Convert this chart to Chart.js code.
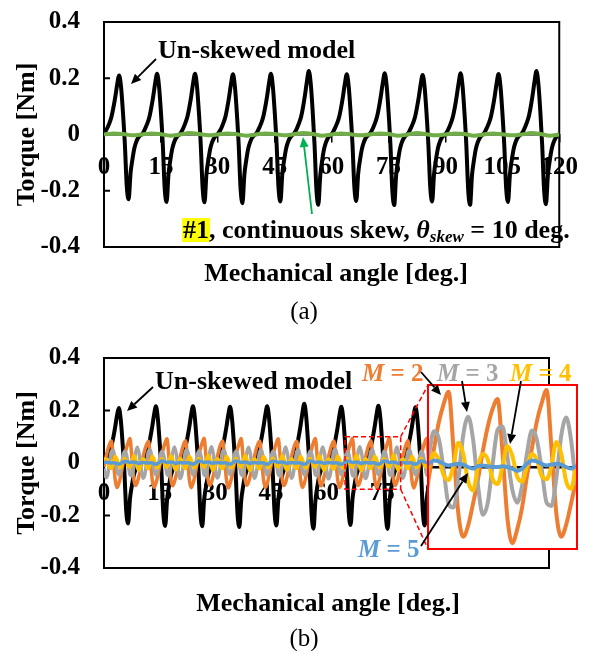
<!DOCTYPE html>
<html>
<head>
<meta charset="utf-8">
<script src="https://cdn.jsdelivr.net/npm/chart.js@4.4.1/dist/chart.umd.min.js"></script>
<style>
  html, body { margin: 0; padding: 0; background: #fff; }
  body { width: 589px; height: 651px; position: relative; overflow: hidden; }
  canvas { display: block; }
  .panel { position: absolute; left: 0; width: 589px; }
  #panelA { top: 0; }
  #panelB { top: 330px; }
  #inset { position: absolute; box-sizing: border-box; border: 2px solid #ff0000; background: #fff; }
  #overlay { position: absolute; left: 0; top: 0; pointer-events: none; }
</style>
</head>
<body>
<div class="panel" id="panelA"><canvas id="chartA" width="589" height="265"></canvas></div>
<div class="panel" id="panelB"><canvas id="chartB" width="589" height="270"></canvas></div>
<div id="inset"><canvas id="chartC"></canvas></div>
<canvas id="overlay" width="589" height="651"></canvas>
<script>
const SERIF = "'Liberation Serif', 'Times New Roman', serif";
const PANEL_B_TOP = 330;

const angleTicks = [0, 15, 30, 45, 60, 75, 90, 105, 120];
const torqueTicks = [-0.4, -0.2, 0, 0.2, 0.4];

// sample spacing of the torque waveforms [deg]
const waveStep = 0.5;
const skewStep = 2.5;

// un-skewed model, one row per 10 deg
const unskewedTorque = [
  0.008, 0.014, 0.027, 0.043, 0.065, 0.097, 0.136, 0.180, 0.210, 0.168, 0.078, -0.034, -0.184, -0.230, -0.137, -0.088, -0.049, -0.026, -0.012, -0.004,
  0.001, 0.011, 0.026, 0.042, 0.064, 0.098, 0.138, 0.184, 0.216, 0.172, 0.080, -0.036, -0.192, -0.240, -0.142, -0.090, -0.050, -0.027, -0.012, -0.004,
  0.001, 0.012, 0.026, 0.043, 0.064, 0.097, 0.137, 0.184, 0.216, 0.173, 0.081, -0.035, -0.191, -0.241, -0.141, -0.091, -0.051, -0.027, -0.013, -0.004,
  0.002, 0.012, 0.025, 0.042, 0.063, 0.096, 0.136, 0.182, 0.214, 0.171, 0.080, -0.036, -0.193, -0.244, -0.143, -0.091, -0.051, -0.028, -0.012, -0.004,
  0.002, 0.012, 0.026, 0.042, 0.064, 0.097, 0.137, 0.183, 0.216, 0.172, 0.080, -0.035, -0.189, -0.238, -0.140, -0.090, -0.050, -0.027, -0.012, -0.004,
  0.002, 0.012, 0.027, 0.044, 0.066, 0.100, 0.142, 0.190, 0.226, 0.180, 0.084, -0.037, -0.198, -0.250, -0.146, -0.093, -0.052, -0.028, -0.013, -0.004,
  0.002, 0.012, 0.026, 0.042, 0.063, 0.096, 0.136, 0.182, 0.214, 0.171, 0.079, -0.035, -0.188, -0.236, -0.139, -0.089, -0.050, -0.027, -0.012, -0.004,
  0.002, 0.012, 0.026, 0.043, 0.065, 0.098, 0.139, 0.185, 0.218, 0.174, 0.081, -0.036, -0.199, -0.251, -0.146, -0.093, -0.052, -0.028, -0.013, -0.004,
  0.002, 0.012, 0.026, 0.042, 0.063, 0.096, 0.135, 0.181, 0.212, 0.170, 0.079, -0.035, -0.189, -0.238, -0.140, -0.090, -0.050, -0.027, -0.012, -0.004,
  0.002, 0.012, 0.026, 0.043, 0.065, 0.098, 0.139, 0.185, 0.218, 0.174, 0.081, -0.036, -0.198, -0.250, -0.145, -0.093, -0.052, -0.028, -0.013, -0.004,
  0.002, 0.012, 0.026, 0.042, 0.064, 0.097, 0.137, 0.183, 0.215, 0.172, 0.080, -0.035, -0.190, -0.240, -0.141, -0.090, -0.050, -0.027, -0.012, -0.004,
  0.002, 0.012, 0.027, 0.044, 0.066, 0.100, 0.142, 0.190, 0.226, 0.180, 0.084, -0.037, -0.197, -0.248, -0.145, -0.092, -0.052, -0.028, -0.013, -0.004,
  0.002
];

// #1 continuous skew, every 2.5 deg
const skewTorque = [
  0.000, 0.004, 0.002, -0.003, 0.000, 0.004, 0.001, -0.004, 0.000, 0.005, 0.002, -0.003,
  0.000, 0.004, 0.001, -0.004, 0.000, 0.004, 0.002, -0.003, 0.001, 0.005, 0.002, -0.004,
  0.000, 0.004, 0.001, -0.003, 0.000, 0.004, 0.002, -0.004, 0.000, 0.005, 0.001, -0.003,
  0.000, 0.004, 0.002, -0.004, 0.000, 0.004, 0.001, -0.003, 0.000, 0.005, 0.002, -0.004,
  0.000
];

// step skew, M = 2
const m2Torque = [
  -0.015, 0.020, 0.050, 0.072, 0.084, 0.018, -0.062, -0.094, -0.078, -0.050, -0.012, 0.022, 0.055, 0.078, 0.093, 0.022, -0.058, -0.086, -0.072, -0.045,
  -0.014, 0.021, 0.050, 0.071, 0.083, 0.017, -0.063, -0.093, -0.077, -0.049, -0.012, 0.023, 0.055, 0.079, 0.092, 0.021, -0.059, -0.087, -0.071, -0.045,
  -0.015, 0.020, 0.049, 0.072, 0.085, 0.019, -0.062, -0.094, -0.078, -0.050, -0.011, 0.022, 0.056, 0.078, 0.094, 0.022, -0.058, -0.086, -0.072, -0.046,
  -0.016, 0.019, 0.050, 0.073, 0.084, 0.018, -0.061, -0.095, -0.078, -0.051, -0.012, 0.022, 0.055, 0.077, 0.093, 0.023, -0.057, -0.085, -0.072, -0.045,
  -0.015, 0.020, 0.051, 0.072, 0.084, 0.018, -0.062, -0.094, -0.079, -0.050, -0.013, 0.021, 0.054, 0.078, 0.092, 0.022, -0.058, -0.086, -0.073, -0.045,
  -0.014, 0.020, 0.050, 0.072, 0.083, 0.017, -0.062, -0.093, -0.078, -0.050, -0.012, 0.022, 0.055, 0.079, 0.093, 0.021, -0.059, -0.087, -0.072, -0.044,
  -0.015, 0.021, 0.050, 0.071, 0.084, 0.018, -0.062, -0.094, -0.078, -0.050, -0.012, 0.022, 0.055, 0.078, 0.093, 0.022, -0.058, -0.086, -0.072, -0.045,
  -0.015, 0.020, 0.050, 0.072, 0.084, 0.018, -0.063, -0.094, -0.077, -0.050, -0.011, 0.023, 0.056, 0.079, 0.095, 0.023, -0.058, -0.086, -0.071, -0.045,
  -0.016, 0.020, 0.049, 0.072, 0.085, 0.019, -0.062, -0.095, -0.078, -0.051, -0.012, 0.022, 0.055, 0.078, 0.093, 0.022, -0.058, -0.086, -0.072, -0.045,
  -0.015
];

// step skew, M = 3
const m3Torque = [
  -0.020, -0.056, -0.044, 0.004, 0.044, 0.049, 0.013, -0.028, -0.045, -0.024, 0.017, 0.045, 0.035, -0.003, -0.044, -0.048, -0.013, 0.039, 0.060, 0.033,
  -0.022, -0.058, -0.045, 0.003, 0.045, 0.050, 0.014, -0.027, -0.046, -0.025, 0.016, 0.044, 0.035, -0.002, -0.043, -0.048, -0.014, 0.038, 0.061, 0.034,
  -0.023, -0.059, -0.044, 0.004, 0.046, 0.049, 0.012, -0.028, -0.045, -0.024, 0.017, 0.046, 0.036, -0.003, -0.045, -0.049, -0.013, 0.040, 0.062, 0.033,
  -0.022, -0.057, -0.043, 0.005, 0.045, 0.048, 0.013, -0.029, -0.044, -0.023, 0.018, 0.045, 0.034, -0.004, -0.044, -0.047, -0.012, 0.039, 0.060, 0.032,
  -0.021, -0.058, -0.044, 0.004, 0.044, 0.049, 0.013, -0.028, -0.046, -0.024, 0.017, 0.045, 0.035, -0.003, -0.044, -0.048, -0.013, 0.039, 0.061, 0.033,
  -0.022, -0.058, -0.045, 0.004, 0.045, 0.050, 0.013, -0.028, -0.045, -0.025, 0.016, 0.045, 0.035, -0.003, -0.045, -0.048, -0.013, 0.039, 0.061, 0.034,
  -0.022, -0.060, -0.045, 0.004, 0.047, 0.051, 0.014, -0.027, -0.045, -0.024, 0.016, 0.044, 0.035, -0.004, -0.046, -0.050, -0.014, 0.040, 0.062, 0.034,
  -0.023, -0.059, -0.044, 0.004, 0.046, 0.050, 0.013, -0.028, -0.044, -0.023, 0.017, 0.045, 0.034, -0.003, -0.044, -0.048, -0.013, 0.039, 0.061, 0.033,
  -0.022, -0.058, -0.044, 0.004, 0.045, 0.049, 0.013, -0.028, -0.045, -0.024, 0.017, 0.045, 0.035, -0.003, -0.044, -0.048, -0.013, 0.039, 0.061, 0.033,
  -0.022
];

// step skew, M = 4
const m4Torque = [
  0.001, 0.016, 0.009, -0.015, -0.021, 0.001, 0.025, 0.014, -0.012, -0.018, 0.001, 0.017, 0.009, -0.010, -0.015, 0.002, 0.029, 0.016, -0.018, -0.027,
  0.001, 0.016, 0.008, -0.015, -0.022, 0.001, 0.026, 0.014, -0.012, -0.019, 0.001, 0.016, 0.009, -0.011, -0.015, 0.002, 0.028, 0.016, -0.018, -0.026,
  0.000, 0.017, 0.009, -0.014, -0.021, 0.002, 0.025, 0.013, -0.012, -0.018, 0.001, 0.017, 0.010, -0.010, -0.016, 0.002, 0.029, 0.017, -0.017, -0.027,
  0.001, 0.016, 0.009, -0.015, -0.021, 0.001, 0.025, 0.014, -0.013, -0.018, 0.000, 0.017, 0.009, -0.010, -0.015, 0.001, 0.030, 0.016, -0.018, -0.028,
  0.001, 0.015, 0.009, -0.016, -0.022, 0.001, 0.024, 0.014, -0.012, -0.018, 0.001, 0.018, 0.009, -0.010, -0.014, 0.002, 0.029, 0.015, -0.019, -0.027,
  0.002, 0.016, 0.009, -0.015, -0.021, 0.001, 0.025, 0.014, -0.012, -0.019, 0.001, 0.017, 0.009, -0.010, -0.015, 0.002, 0.029, 0.016, -0.018, -0.027,
  0.001, 0.016, 0.010, -0.015, -0.023, 0.000, 0.026, 0.015, -0.012, -0.019, 0.001, 0.017, 0.009, -0.010, -0.016, 0.002, 0.030, 0.016, -0.018, -0.029,
  0.001, 0.016, 0.009, -0.015, -0.021, 0.001, 0.026, 0.014, -0.012, -0.018, 0.001, 0.016, 0.009, -0.011, -0.015, 0.002, 0.031, 0.016, -0.018, -0.027,
  0.001, 0.016, 0.009, -0.015, -0.021, 0.001, 0.025, 0.014, -0.012, -0.018, 0.001, 0.017, 0.009, -0.010, -0.015, 0.002, 0.029, 0.016, -0.018, -0.027,
  0.001
];

// step skew, M = 5
const m5Torque = [
  0.002, 0.003, 0.002, 0.001, 0.000, 0.001, 0.000, -0.002, -0.004, -0.002, 0.003, 0.007, 0.006, 0.004, 0.002, 0.003, 0.004, 0.003, 0.000, -0.002,
  0.001, 0.002, 0.001, 0.000, 0.000, 0.001, 0.000, -0.002, -0.005, -0.002, 0.004, 0.008, 0.007, 0.004, 0.002, 0.003, 0.004, 0.003, 0.000, -0.002,
  0.001, 0.002, 0.001, 0.000, 0.001, 0.001, 0.000, -0.002, -0.005, -0.002, 0.004, 0.008, 0.006, 0.004, 0.002, 0.003, 0.004, 0.003, 0.000, -0.001,
  0.001, 0.002, 0.001, 0.000, 0.000, 0.001, 0.000, -0.003, -0.005, -0.002, 0.004, 0.008, 0.007, 0.004, 0.002, 0.003, 0.004, 0.003, 0.000, -0.002,
  0.001, 0.002, 0.001, 0.000, 0.000, 0.001, 0.000, -0.002, -0.005, -0.002, 0.004, 0.007, 0.007, 0.004, 0.002, 0.003, 0.004, 0.003, 0.000, -0.002,
  0.001, 0.002, 0.001, 0.000, 0.000, 0.001, 0.000, -0.002, -0.005, -0.003, 0.004, 0.008, 0.007, 0.004, 0.002, 0.003, 0.004, 0.003, 0.000, -0.002,
  0.001, 0.002, 0.001, 0.000, 0.000, 0.001, 0.000, -0.002, -0.005, -0.002, 0.004, 0.008, 0.007, 0.004, 0.002, 0.003, 0.004, 0.003, 0.000, -0.002,
  0.001, 0.002, 0.001, 0.000, 0.000, 0.001, 0.000, -0.002, -0.005, -0.002, 0.004, 0.008, 0.007, 0.004, 0.002, 0.003, 0.004, 0.003, 0.000, -0.002,
  0.001, 0.002, 0.001, 0.000, 0.000, 0.001, 0.000, -0.002, -0.005, -0.002, 0.004, 0.008, 0.007, 0.004, 0.002, 0.003, 0.004, 0.003, 0.000, -0.002,
  0.001
];

// window of (b) that is blown up in the inset
const zoomAngle = [65, 80];
const zoomTorque = [-0.1, 0.1];
const insetBox = { left: 427, top: 384, width: 151, height: 166 };

const tickFont = { family: SERIF, size: 25, weight: 'bold' };
const titleFont = { family: SERIF, size: 26, weight: 'bold' };
const clear = 'rgba(0,0,0,0)';

const toPoints = (values, step) => values.map((y, i) => ({ x: i * step, y }));

function trace(values, step, color, width, order) {
  return {
    data: toPoints(values, step),
    borderColor: color,
    borderWidth: width,
    pointRadius: 0,
    cubicInterpolationMode: 'monotone',
    borderJoinStyle: 'round',
    fill: false,
    order
  };
}

function angleAxis(labelPad) {
  return {
    type: 'linear',
    min: 0,
    max: 120,
    position: { y: 0 },
    afterBuildTicks: s => { s.ticks = angleTicks.map(value => ({ value })); },
    afterFit: s => { s.height = 0; },
    grid: { drawOnChartArea: false, drawTicks: true, tickLength: 7, color: '#000', lineWidth: 1.5 },
    border: { display: true, color: '#000', width: 1.5 },
    ticks: { font: tickFont, color: '#000', padding: labelPad, autoSkip: false, maxRotation: 0 }
  };
}

// the gap between labels and frame comes from an invisible tick mark,
// ticks.padding would also push the plot area down
function torqueAxis() {
  return {
    min: -0.4,
    max: 0.4,
    afterBuildTicks: s => { s.ticks = torqueTicks.map(value => ({ value })); },
    afterFit: s => { s.width = 100; },
    grid: { display: true, drawOnChartArea: false, drawTicks: true, tickLength: 24, color: clear, tickColor: clear },
    border: { display: false },
    ticks: { font: tickFont, color: '#000', padding: 0, callback: v => (v === 0 ? '0' : v.toFixed(1)) },
    title: { display: true, text: 'Torque [Nm]', font: titleFont, color: '#000', padding: { top: 8, bottom: 0 } }
  };
}

function baseOptions(padding, scales) {
  return {
    responsive: false,
    animation: false,
    devicePixelRatio: 1,
    events: [],
    layout: { padding },
    plugins: { legend: { display: false }, tooltip: { enabled: false } },
    scales
  };
}

// box round the plot area plus short inward ticks on the torque axis
const plotFrame = {
  id: 'plotFrame',
  beforeDatasetsDraw(chart) {
    const { ctx, chartArea: a, scales: { y } } = chart;
    ctx.save();
    ctx.strokeStyle = '#000';
    ctx.lineWidth = 2;
    ctx.strokeRect(a.left, a.top, a.right - a.left, a.bottom - a.top);
    ctx.beginPath();
    y.ticks.forEach(t => {
      const py = y.getPixelForValue(t.value);
      ctx.moveTo(a.left, py);
      ctx.lineTo(a.left + 6, py);
    });
    ctx.stroke();
    ctx.restore();
  }
};

// dashed window in (b) and the leader lines to the inset
const zoomFrame = {
  id: 'zoomFrame',
  afterDatasetsDraw(chart) {
    const { ctx, scales: { x, y } } = chart;
    const left = x.getPixelForValue(zoomAngle[0]);
    const right = x.getPixelForValue(zoomAngle[1]);
    const top = y.getPixelForValue(zoomTorque[1]);
    const bottom = y.getPixelForValue(zoomTorque[0]);
    const bx = insetBox.left + 1;
    const by1 = insetBox.top - PANEL_B_TOP + 1;
    const by2 = by1 + insetBox.height - 2;
    ctx.save();
    ctx.strokeStyle = '#ff0000';
    ctx.lineWidth = 1.5;
    ctx.setLineDash([5, 3]);
    ctx.strokeRect(left, top, right - left, bottom - top);
    ctx.beginPath();
    ctx.moveTo(right, top);
    ctx.lineTo(bx, by1);
    ctx.moveTo(right, bottom);
    ctx.lineTo(bx, by2);
    ctx.stroke();
    ctx.restore();
  }
};

new Chart(document.getElementById('chartA'), {
  type: 'line',
  data: {
    datasets: [
      trace(skewTorque, skewStep, '#70ad47', 4, 1),
      trace(unskewedTorque, waveStep, '#000000', 4, 2)
    ]
  },
  options: baseOptions({ left: 4, right: 19, top: 22, bottom: 18 }, { x: angleAxis(11), y: torqueAxis() }),
  plugins: [plotFrame]
});

new Chart(document.getElementById('chartB'), {
  type: 'line',
  data: {
    datasets: [
      trace(m5Torque, waveStep, '#5b9bd5', 3.5, 1),
      trace(m4Torque, waveStep, '#ffc000', 3.5, 2),
      trace(m3Torque, waveStep, '#a5a5a5', 3.5, 3),
      trace(m2Torque, waveStep, '#ed7d31', 3.5, 4),
      trace(unskewedTorque, waveStep, '#000000', 4, 5)
    ]
  },
  options: baseOptions({ left: 4, right: 40, top: 28, bottom: 32 }, { x: angleAxis(9), y: torqueAxis() }),
  plugins: [plotFrame, zoomFrame]
});

// inset: same step-skew curves over the zoom window
const insetEl = document.getElementById('inset');
Object.assign(insetEl.style, {
  left: insetBox.left + 'px', top: insetBox.top + 'px',
  width: insetBox.width + 'px', height: insetBox.height + 'px'
});
const insetCanvas = document.getElementById('chartC');
insetCanvas.width = insetBox.width - 4;
insetCanvas.height = insetBox.height - 4;

new Chart(insetCanvas, {
  type: 'line',
  data: {
    datasets: [
      trace(m5Torque, waveStep, '#5b9bd5', 4, 1),
      trace(m4Torque, waveStep, '#ffc000', 4, 2),
      trace(m3Torque, waveStep, '#a5a5a5', 4, 3),
      trace(m2Torque, waveStep, '#ed7d31', 4, 4)
    ]
  },
  options: baseOptions(0, {
    x: {
      type: 'linear', min: zoomAngle[0], max: zoomAngle[1], position: { y: 0 },
      afterFit: s => { s.height = 0; },
      grid: { display: false, drawTicks: false },
      border: { display: true, color: '#000', width: 2.5 },
      ticks: { display: false }
    },
    y: { min: zoomTorque[0], max: zoomTorque[1], display: false }
  })
});

// annotations
const ov = document.getElementById('overlay').getContext('2d');

function write(text, x, y, opts = {}) {
  const { size = 26, weight = 'bold', style = 'normal', color = '#000', align = 'left' } = opts;
  ov.font = `${style} ${weight} ${size}px ${SERIF}`;
  ov.fillStyle = color;
  ov.textAlign = align;
  ov.textBaseline = 'alphabetic';
  ov.fillText(text, x, y);
  return ov.measureText(text).width;
}

function arrow(x1, y1, x2, y2, color = '#000') {
  const ang = Math.atan2(y2 - y1, x2 - x1);
  const head = 10, half = 4.5;
  const bx = x2 - head * Math.cos(ang), by = y2 - head * Math.sin(ang);
  ov.strokeStyle = color;
  ov.fillStyle = color;
  ov.lineWidth = 1.8;
  ov.beginPath();
  ov.moveTo(x1, y1);
  ov.lineTo(bx, by);
  ov.stroke();
  ov.beginPath();
  ov.moveTo(x2, y2);
  ov.lineTo(bx + half * Math.sin(ang), by - half * Math.cos(ang));
  ov.lineTo(bx - half * Math.sin(ang), by + half * Math.cos(ang));
  ov.closePath();
  ov.fill();
}

function mLabel(n, x, y, color) {
  const w = write('M', x, y, { style: 'italic', color, size: 25 });
  write(' = ' + n, x + w, y, { color, size: 25 });
}

// (a)
write('Un-skewed model', 158, 58);
arrow(156, 59, 131, 84);

let cx = 183;
ov.font = `bold 26px ${SERIF}`;
const tagW = ov.measureText('#1').width;
ov.fillStyle = '#ffff00';
ov.fillRect(cx - 1, 218, tagW + 2, 24);
cx += write('#1', cx, 238);
cx += write(', continuous skew, ', cx, 238);
cx += write('\u03b8', cx, 238, { style: 'italic' });
cx += write('skew', cx, 242, { style: 'italic', size: 17 });
write(' = 10 deg.', cx, 238);
arrow(312, 214, 303, 137, '#00b050');

write('Mechanical angle [deg.]', 336, 281, { align: 'center' });
write('(a)', 304, 319, { weight: 'normal', size: 25, align: 'center' });

// (b)
write('Un-skewed model', 155, 389);
arrow(153, 387, 127, 411);

mLabel('2', 362, 381, '#ed7d31');
mLabel('3', 437, 381, '#a5a5a5');
mLabel('4', 510, 381, '#ffc000');
mLabel('5', 358, 557, '#5b9bd5');
arrow(421, 372, 441, 395);
arrow(462, 381, 467, 412);
arrow(521, 381, 510, 444);
arrow(421, 546, 468, 473);

write('Mechanical angle [deg.]', 328, 611, { align: 'center' });
write('(b)', 304, 646, { weight: 'normal', size: 25, align: 'center' });
</script>
</body>
</html>
